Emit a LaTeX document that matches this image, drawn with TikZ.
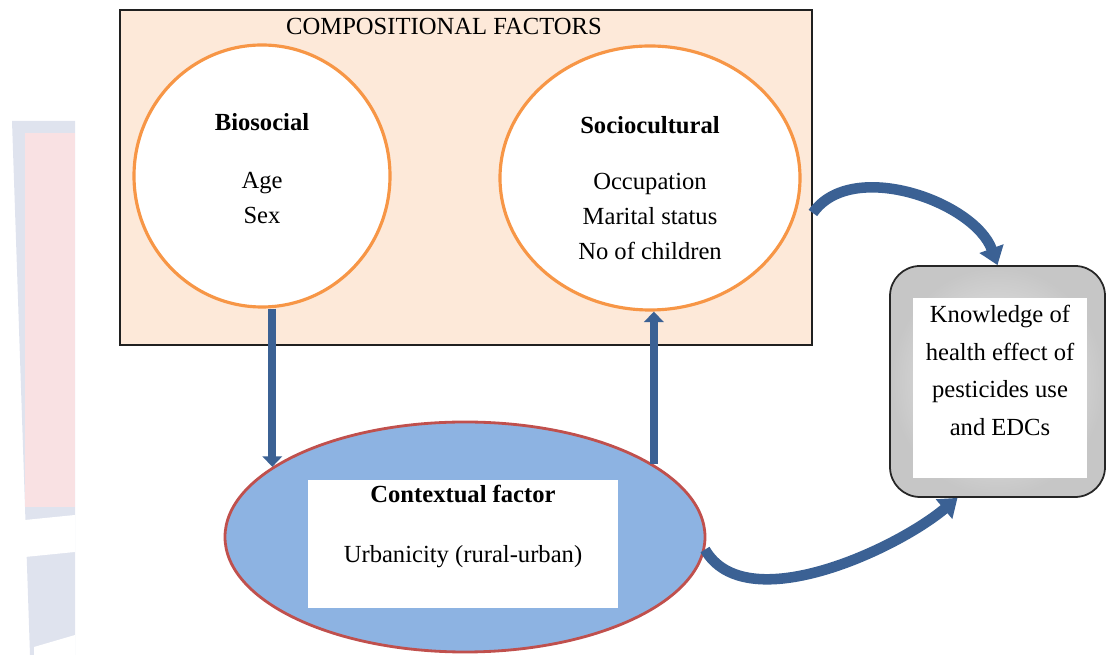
\documentclass[tikz,border=0pt]{standalone}
\usepackage{fontspec}
\setmainfont{Liberation Serif}
\usetikzlibrary{arrows.meta,shapes.geometric}

\definecolor{peach}{HTML}{FDE9D9}
\definecolor{orangeline}{HTML}{F79646}
\definecolor{ctxblue}{HTML}{8DB3E2}
\definecolor{ctxred}{HTML}{C0504D}
\definecolor{arrowblue}{HTML}{3B6194}
\definecolor{wmgray}{HTML}{DFE3EE}
\definecolor{wmpink}{HTML}{F9E1E3}

\begin{document}
\begin{tikzpicture}[x=0.2mm, y=0.2mm,
  factor/.style={ellipse, draw=orangeline, line width=1.8pt, fill=white},
  txt/.style={align=center, inner sep=0pt, font=\fontsize{14}{20}\selectfont},
  flow/.style={arrowblue, line width=4.5pt, -{Triangle[length=6pt,width=11pt]}},
  curvedflow/.style={arrowblue, line width=6pt, -{Triangle[length=10pt,width=14pt]}}]
  \useasboundingbox (0,0) rectangle (1110,655);
  % faint shapes on the left
  \fill[wmgray] (12,534) -- (75,534) -- (75,0) -- (30,0) -- cycle;
  \fill[wmpink] (25,522) rectangle (75,148);
  \fill[white] (25,135) -- (75,140) -- (75,103) -- (25,98) -- cycle;
  \fill[white] (34,0) -- (75,0) -- (75,20) -- (34,8) -- cycle;

  \node[draw=gray!25!black, line width=1pt, fill=peach, minimum width=138.4mm, minimum height=67mm] (comp) at (466,477.5) {};
  \node[txt, anchor=base] (compT) at (444,620) {COMPOSITIONAL FACTORS};

  \node[factor, minimum width=51.2mm, minimum height=52.4mm] (bio) at (262,479) {};
  \node[txt, anchor=north] (bioT) at (262,542) {\textbf{Biosocial}\\[13pt] Age\\ Sex};
  \node[factor, minimum width=60mm, minimum height=52.8mm] (soc) at (650,477) {};
  \node[txt, anchor=north] (socT) at (650,539) {\textbf{Sociocultural}\\[12pt] Occupation\\ Marital status\\ No of children};

  \node[ellipse, draw=ctxred, line width=1.6pt, fill=ctxblue, minimum width=96mm, minimum height=46mm] (ctx) at (465,118) {};
  \node[fill=white, minimum width=62mm, minimum height=25.6mm] (ctxbox) at (463,111) {};
  \node[txt, anchor=north] (ctxT) at (463,170) {\textbf{Contextual factor}\\[14pt] Urbanicity (rural-urban)};

  \node[draw=gray!30!black, line width=1pt, rounded corners=6mm, inner color=gray!10, outer color=gray!45, minimum width=43mm, minimum height=46.2mm] (know) at (997.5,273.5) {};
  \node[fill=white, minimum width=34.8mm, minimum height=36mm] (knowbox) at (1000,267) {};
  \node[txt, anchor=north, font=\fontsize{14}{21.4}\selectfont] (knowT) at (1000,350) {Knowledge of\\ health effect of\\ pesticides use\\ and EDCs};

  \draw[flow] (ctx.160 |- bio.south) -- (ctx.160);
  \draw[flow] (ctx.21) -- (ctx.21 |- soc.south);
  \draw[curvedflow] ([yshift=-7.1mm]comp.east) to[out=55,in=110,looseness=0.9] (know.north);
  \draw[curvedflow] (ctx.-3) to[out=-60,in=-140,looseness=0.8] ([xshift=-8mm]know.south);
\end{tikzpicture}
\end{document}
